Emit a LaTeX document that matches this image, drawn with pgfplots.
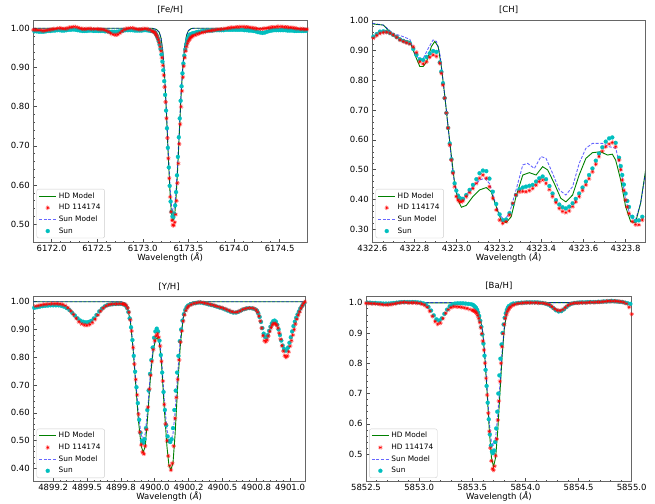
\documentclass[border=0pt]{standalone}
\usepackage{pgfplots}
\pgfplotsset{compat=1.18}
\usetikzlibrary{plotmarks}
\usepackage{fontspec}
\setmainfont{DejaVu Sans}
\definecolor{mplgreen}{rgb}{0,0.5,0}
\definecolor{mplred}{rgb}{1,0,0}
\definecolor{mplblue}{rgb}{0,0,1}
\definecolor{mplcyan}{rgb}{0,0.75,0.75}
\newcommand{\tf}{\fontsize{8.5}{10}\selectfont}
\newcommand{\lf}{\fontsize{7.4}{8.4}\selectfont}
\pgfplotsset{
  specax/.style={
    scale only axis, anchor=north west,
    axis line style={black!60, line width=0.6pt},
    tick align=inside, tick pos=left,
    major tick length=3.5pt, minor tick length=2pt,
    every tick/.style={black!70, line width=0.5pt},
    tick label style={font=\tf},
    xticklabel style={yshift=1pt, /pgf/number format/.cd, fixed, fixed zerofill, precision=1, 1000 sep={}, assume math mode=true},
    yticklabel style={/pgf/number format/.cd, fixed, fixed zerofill, precision=2, assume math mode=true},
    scaled ticks=false,
    label style={font=\tf},
    title style={font=\tf, yshift=-3pt},
    xlabel={Wavelength (\textit{Å})},
    xlabel style={yshift=5.5pt},
    legend style={at={(0.012,0.02)}, anchor=south west, draw=black!20, rounded corners=2pt,
      font=\lf, row sep=0.6pt, inner xsep=2pt, inner ysep=1.5pt, fill=white},
    legend cell align=left,
  },
  hdmod/.style={mplgreen, line width=0.9pt, no marks},
  hdobs/.style={only marks, mark=10-pointed star, mark size=2.3pt, mark options={fill=mplred, draw=mplred, line width=0.2pt}},
  sunmod/.style={mplblue, draw opacity=0.6, line width=0.9pt, dash pattern=on 3pt off 1.6pt, no marks},
  sunobs/.style={only marks, mark=*, mark size=2pt, mark options={fill=mplcyan, draw=mplcyan, line width=0.2pt}},
  fourleg/.code={%
  },
}
\newcommand{\legs}{%
  \addlegendimage{hdmod}\addlegendentry{HD Model}
  \addlegendimage{hdobs}\addlegendentry{HD 114174}
  \addlegendimage{sunmod}\addlegendentry{Sun Model}
  \addlegendimage{sunobs}\addlegendentry{Sun}}
\begin{document}
\begin{tikzpicture}
\useasboundingbox (0pt,-503pt) rectangle (655pt,0pt);
% ---------------- [Fe/H]
\begin{axis}[specax, at={(33.3pt,-20pt)}, width=273.7pt, height=222.7pt,
  title={[Fe/H]}, xmin=6171.8, xmax=6174.8, ymin=0.453, ymax=1.021,
  xtick={6172,6172.5,6173,6173.5,6174,6174.5}, ytick={0.5,0.6,0.7,0.8,0.9,1.0},
  minor x tick num=4, minor y tick num=4]
\legs
\addplot[hdmod, forget plot] coordinates {(6171.8,1.0) (6173.10,1.0) (6173.15,0.997) (6173.18,0.99) (6173.20,0.975) (6173.22,0.94) (6173.24,0.875) (6173.26,0.78) (6173.28,0.67) (6173.30,0.575) (6173.31,0.54) (6173.32,0.518) (6173.33,0.51) (6173.34,0.512) (6173.35,0.525) (6173.36,0.55) (6173.38,0.63) (6173.40,0.73) (6173.42,0.83) (6173.44,0.905) (6173.46,0.955) (6173.48,0.982) (6173.50,0.994) (6173.53,0.999) (6173.56,1.0) (6174.8,1.0)};
\addplot[sunmod, forget plot] coordinates {(6171.8,1.0) (6173.10,1.0) (6173.15,0.997) (6173.18,0.99) (6173.20,0.976) (6173.22,0.942) (6173.24,0.88) (6173.26,0.787) (6173.28,0.68) (6173.30,0.59) (6173.31,0.558) (6173.32,0.54) (6173.33,0.535) (6173.34,0.537) (6173.35,0.548) (6173.36,0.572) (6173.38,0.645) (6173.40,0.74) (6173.42,0.835) (6173.44,0.907) (6173.46,0.955) (6173.48,0.982) (6173.50,0.994) (6173.53,0.999) (6173.56,1.0) (6174.8,1.0)};
\addplot[sunobs, forget plot] coordinates {(6171.8125,0.992) (6171.8375,0.992) (6171.8625,0.991) (6171.8875,0.991) (6171.9125,0.991) (6171.9375,0.992) (6171.9625,0.993) (6171.9875,0.993) (6172.0125,0.994) (6172.0375,0.994) (6172.0625,0.995) (6172.0875,0.995) (6172.1125,0.994) (6172.1375,0.994) (6172.1625,0.995) (6172.1875,0.996) (6172.2125,0.996) (6172.2375,0.997) (6172.2625,0.996) (6172.2875,0.995) (6172.3125,0.994) (6172.3375,0.993) (6172.3625,0.993) (6172.3875,0.993) (6172.4125,0.994) (6172.4375,0.994) (6172.4625,0.993) (6172.4875,0.993) (6172.5125,0.993) (6172.5375,0.993) (6172.5625,0.993) (6172.5875,0.992) (6172.6125,0.992) (6172.6375,0.991) (6172.6625,0.991) (6172.6875,0.991) (6172.7125,0.991) (6172.7375,0.992) (6172.7625,0.993) (6172.7875,0.994) (6172.8125,0.995) (6172.8375,0.995) (6172.8625,0.995) (6172.8875,0.995) (6172.9125,0.994) (6172.9375,0.994) (6172.9625,0.994) (6172.9875,0.994) (6173.0125,0.995) (6173.0375,0.995) (6173.0625,0.994) (6173.0875,0.993) (6173.1125,0.992)
(6173.125,0.991) (6173.135,0.989) (6173.145,0.985) (6173.155,0.980) (6173.165,0.974) (6173.175,0.967) (6173.185,0.958) (6173.195,0.947) (6173.205,0.933) (6173.215,0.915) (6173.225,0.893) (6173.235,0.865) (6173.245,0.830) (6173.255,0.790) (6173.265,0.745) (6173.275,0.695) (6173.285,0.645) (6173.295,0.598) (6173.305,0.558) (6173.315,0.532) (6173.325,0.520) (6173.335,0.518) (6173.345,0.527) (6173.355,0.548) (6173.365,0.582) (6173.375,0.625) (6173.385,0.672) (6173.395,0.722) (6173.405,0.770) (6173.415,0.815) (6173.425,0.852) (6173.435,0.885) (6173.445,0.910) (6173.455,0.930) (6173.465,0.946) (6173.475,0.958) (6173.485,0.967) (6173.495,0.974) (6173.505,0.979) (6173.515,0.983) (6173.525,0.985) (6173.545,0.987)
(6173.5625,0.988) (6173.5875,0.990) (6173.6125,0.991) (6173.6375,0.992) (6173.6625,0.993) (6173.6875,0.993) (6173.7125,0.994) (6173.7375,0.994) (6173.7625,0.994) (6173.7875,0.995) (6173.8125,0.995) (6173.8375,0.995) (6173.8625,0.995) (6173.8875,0.995) (6173.9125,0.996) (6173.9375,0.996) (6173.9625,0.996) (6173.9875,0.996) (6174.0125,0.996) (6174.0375,0.996) (6174.0625,0.996) (6174.0875,0.996) (6174.1125,0.995) (6174.1375,0.995) (6174.1625,0.994) (6174.1875,0.994) (6174.2125,0.993) (6174.2375,0.992) (6174.2625,0.990) (6174.2875,0.989) (6174.3125,0.988) (6174.3375,0.989) (6174.3625,0.991) (6174.3875,0.993) (6174.4125,0.994) (6174.4375,0.995) (6174.4625,0.995) (6174.4875,0.995) (6174.5125,0.995) (6174.5375,0.995) (6174.5625,0.995) (6174.5875,0.994) (6174.6125,0.994) (6174.6375,0.994) (6174.6625,0.993) (6174.6875,0.993) (6174.7125,0.993) (6174.7375,0.993) (6174.7625,0.993) (6174.7875,0.993)};
\addplot[hdobs, forget plot] coordinates {(6171.800,0.996) (6171.825,0.996) (6171.850,0.995) (6171.875,0.995) (6171.900,0.994) (6171.925,0.994) (6171.950,0.995) (6171.975,0.996) (6172.000,0.997) (6172.025,0.998) (6172.050,0.999) (6172.075,1.000) (6172.100,1.000) (6172.125,0.999) (6172.150,0.999) (6172.175,1.000) (6172.200,1.002) (6172.225,1.003) (6172.250,1.004) (6172.275,1.003) (6172.300,1.001) (6172.325,0.999) (6172.350,0.998) (6172.375,0.998) (6172.400,0.999) (6172.425,0.999) (6172.450,0.998) (6172.475,0.998) (6172.500,0.998) (6172.525,0.997) (6172.550,0.997) (6172.575,0.996) (6172.600,0.994) (6172.625,0.991) (6172.650,0.987) (6172.675,0.984) (6172.700,0.983) (6172.725,0.984) (6172.750,0.988) (6172.775,0.993) (6172.800,0.997) (6172.825,0.999) (6172.850,1.000) (6172.875,1.001) (6172.900,1.000) (6172.925,0.998) (6172.950,0.997) (6172.975,0.997) (6173.000,0.998) (6173.025,0.999) (6173.050,0.998) (6173.075,0.996) (6173.100,0.993) (6173.115,0.991)
(6173.13,0.990) (6173.14,0.986) (6173.15,0.982) (6173.16,0.977) (6173.17,0.971) (6173.18,0.963) (6173.19,0.953) (6173.20,0.942) (6173.21,0.925) (6173.22,0.905) (6173.23,0.880) (6173.24,0.850) (6173.25,0.812) (6173.26,0.770) (6173.27,0.720) (6173.28,0.668) (6173.29,0.617) (6173.30,0.570) (6173.31,0.532) (6173.32,0.510) (6173.33,0.498) (6173.34,0.497) (6173.35,0.505) (6173.36,0.525) (6173.37,0.560) (6173.38,0.605) (6173.39,0.655) (6173.40,0.705) (6173.41,0.755) (6173.42,0.800) (6173.43,0.840) (6173.44,0.875) (6173.45,0.903) (6173.46,0.925) (6173.47,0.942) (6173.48,0.953) (6173.49,0.961) (6173.50,0.967) (6173.51,0.971) (6173.52,0.975) (6173.53,0.977) (6173.54,0.979) (6173.55,0.981)
(6173.575,0.983) (6173.600,0.985) (6173.625,0.987) (6173.650,0.989) (6173.675,0.990) (6173.700,0.992) (6173.725,0.993) (6173.750,0.994) (6173.775,0.995) (6173.800,0.996) (6173.825,0.997) (6173.850,0.997) (6173.875,0.998) (6173.900,0.999) (6173.925,1.000) (6173.950,1.001) (6173.975,1.002) (6174.000,1.002) (6174.025,1.003) (6174.050,1.003) (6174.075,1.004) (6174.100,1.004) (6174.125,1.003) (6174.150,1.003) (6174.175,1.002) (6174.200,1.001) (6174.225,1.000) (6174.250,0.999) (6174.275,0.998) (6174.300,0.998) (6174.325,0.999) (6174.350,1.000) (6174.375,1.001) (6174.400,1.002) (6174.425,1.003) (6174.450,1.003) (6174.475,1.004) (6174.500,1.004) (6174.525,1.004) (6174.550,1.003) (6174.575,1.003) (6174.600,1.002) (6174.625,1.002) (6174.650,1.001) (6174.675,1.000) (6174.700,0.999) (6174.725,0.998) (6174.750,0.998) (6174.775,0.997) (6174.800,0.997)};
\end{axis}
% ---------------- [CH]
\begin{axis}[specax, at={(372.3pt,-20pt)}, width=272.7pt, height=222.7pt,
  title={[CH]}, xmin=4322.6, xmax=4323.892, ymin=0.255, ymax=1.002,
  xtick={4322.6,4322.8,4323.0,4323.2,4323.4,4323.6,4323.8}, ytick={0.3,0.4,0.5,0.6,0.7,0.8,0.9,1.0},
  minor x tick num=3, minor y tick num=4]
\legs
\addplot[hdmod, forget plot] coordinates {(4322.600,0.989) (4322.652,0.985) (4322.699,0.952) (4322.747,0.935) (4322.778,0.930) (4322.802,0.885) (4322.825,0.846) (4322.841,0.846) (4322.857,0.862) (4322.880,0.913) (4322.896,0.930) (4322.912,0.913) (4322.927,0.846) (4322.943,0.750) (4322.959,0.644) (4322.975,0.544) (4322.990,0.454) (4323.006,0.398) (4323.022,0.374) (4323.045,0.380) (4323.077,0.410) (4323.108,0.432) (4323.140,0.440) (4323.163,0.426) (4323.187,0.376) (4323.210,0.331) (4323.234,0.322) (4323.258,0.342) (4323.281,0.410) (4323.313,0.482) (4323.344,0.490) (4323.376,0.482) (4323.407,0.510) (4323.431,0.499) (4323.462,0.454) (4323.493,0.404) (4323.517,0.392) (4323.549,0.415) (4323.580,0.482) (4323.612,0.538) (4323.643,0.557) (4323.682,0.560) (4323.714,0.549) (4323.737,0.552) (4323.753,0.532) (4323.777,0.465) (4323.800,0.376) (4323.824,0.326) (4323.847,0.322) (4323.871,0.387) (4323.895,0.499)};
\addplot[sunmod, forget plot] coordinates {(4322.600,0.991) (4322.652,0.985) (4322.699,0.957) (4322.747,0.946) (4322.778,0.937) (4322.802,0.890) (4322.825,0.868) (4322.841,0.873) (4322.865,0.907) (4322.888,0.935) (4322.904,0.930) (4322.920,0.890) (4322.935,0.800) (4322.951,0.700) (4322.967,0.588) (4322.982,0.488) (4322.998,0.426) (4323.014,0.404) (4323.038,0.410) (4323.077,0.443) (4323.108,0.465) (4323.132,0.471) (4323.155,0.454) (4323.179,0.398) (4323.203,0.348) (4323.226,0.331) (4323.250,0.354) (4323.281,0.432) (4323.313,0.516) (4323.336,0.521) (4323.368,0.504) (4323.399,0.544) (4323.423,0.538) (4323.454,0.488) (4323.486,0.432) (4323.517,0.415) (4323.549,0.443) (4323.580,0.521) (4323.612,0.572) (4323.643,0.588) (4323.690,0.588) (4323.722,0.577) (4323.753,0.572) (4323.777,0.504) (4323.800,0.398) (4323.824,0.342) (4323.847,0.331) (4323.871,0.387) (4323.897,0.499)};
\addplot[sunobs, forget plot] coordinates {(4322.605,0.946) (4322.621,0.955) (4322.636,0.963) (4322.652,0.964) (4322.668,0.963) (4322.684,0.958) (4322.699,0.952) (4322.715,0.945) (4322.731,0.937) (4322.747,0.932) (4322.762,0.928) (4322.778,0.924) (4322.794,0.905) (4322.809,0.885) (4322.825,0.870) (4322.841,0.868) (4322.857,0.878) (4322.872,0.890) (4322.888,0.898) (4322.904,0.895) (4322.920,0.860) (4322.927,0.829) (4322.935,0.790) (4322.943,0.740) (4322.951,0.690) (4322.959,0.640) (4322.967,0.588) (4322.975,0.535) (4322.982,0.492) (4322.990,0.454) (4322.998,0.430) (4323.006,0.413) (4323.014,0.405) (4323.022,0.401) (4323.030,0.402) (4323.045,0.415) (4323.061,0.432) (4323.077,0.449) (4323.093,0.468) (4323.108,0.488) (4323.124,0.497) (4323.140,0.495) (4323.155,0.470) (4323.171,0.426) (4323.187,0.385) (4323.203,0.350) (4323.218,0.331) (4323.234,0.333) (4323.250,0.354) (4323.266,0.385) (4323.281,0.415) (4323.297,0.434) (4323.313,0.440) (4323.328,0.443) (4323.344,0.446) (4323.360,0.449) (4323.376,0.460) (4323.391,0.471) (4323.407,0.477) (4323.423,0.468) (4323.439,0.445) (4323.454,0.420) (4323.470,0.398) (4323.486,0.383) (4323.501,0.374) (4323.517,0.370) (4323.533,0.376) (4323.549,0.387) (4323.564,0.402) (4323.580,0.420) (4323.596,0.440) (4323.612,0.460) (4323.627,0.482) (4323.643,0.504) (4323.659,0.530) (4323.674,0.554) (4323.690,0.575) (4323.706,0.594) (4323.722,0.605) (4323.737,0.608) (4323.753,0.590) (4323.769,0.540) (4323.777,0.512) (4323.784,0.482) (4323.792,0.450) (4323.800,0.420) (4323.808,0.395) (4323.816,0.375) (4323.832,0.342) (4323.847,0.328) (4323.863,0.330) (4323.879,0.342) (4323.895,0.365)};
\addplot[hdobs, forget plot] coordinates {(4322.605,0.941) (4322.621,0.950) (4322.636,0.957) (4322.652,0.960) (4322.668,0.961) (4322.684,0.958) (4322.699,0.952) (4322.715,0.944) (4322.731,0.935) (4322.747,0.930) (4322.762,0.926) (4322.778,0.922) (4322.794,0.912) (4322.809,0.893) (4322.825,0.862) (4322.841,0.855) (4322.857,0.862) (4322.872,0.877) (4322.888,0.885) (4322.904,0.880) (4322.920,0.857) (4322.927,0.823) (4322.935,0.784) (4322.943,0.740) (4322.951,0.690) (4322.959,0.640) (4322.967,0.583) (4322.975,0.532) (4322.982,0.488) (4322.990,0.443) (4322.998,0.410) (4323.006,0.398) (4323.014,0.393) (4323.022,0.392) (4323.030,0.396) (4323.045,0.410) (4323.061,0.423) (4323.077,0.437) (4323.093,0.454) (4323.108,0.471) (4323.124,0.482) (4323.140,0.471) (4323.155,0.443) (4323.171,0.404) (4323.187,0.365) (4323.203,0.331) (4323.218,0.320) (4323.234,0.326) (4323.250,0.348) (4323.266,0.387) (4323.281,0.415) (4323.297,0.426) (4323.313,0.427) (4323.328,0.426) (4323.344,0.430) (4323.360,0.437) (4323.376,0.448) (4323.391,0.460) (4323.407,0.465) (4323.423,0.454) (4323.439,0.433) (4323.454,0.410) (4323.470,0.390) (4323.486,0.370) (4323.501,0.360) (4323.517,0.356) (4323.533,0.362) (4323.549,0.376) (4323.564,0.392) (4323.580,0.410) (4323.596,0.430) (4323.612,0.449) (4323.627,0.470) (4323.643,0.493) (4323.659,0.518) (4323.674,0.544) (4323.690,0.562) (4323.706,0.577) (4323.722,0.586) (4323.737,0.591) (4323.753,0.577) (4323.769,0.532) (4323.777,0.500) (4323.784,0.465) (4323.792,0.430) (4323.800,0.398) (4323.808,0.375) (4323.816,0.353) (4323.832,0.326) (4323.847,0.316) (4323.863,0.315) (4323.879,0.331) (4323.895,0.348)};
\end{axis}
% ---------------- [Y/H]
\begin{axis}[specax, at={(33.3pt,-296.7pt)}, width=271.7pt, height=185pt,
  title={[Y/H]}, xmin=4899.103, xmax=4901.11, ymin=0.352, ymax=1.018,
  xtick={4899.25,4899.5,4899.75,4900,4900.25,4900.5,4900.75,4901},
  xticklabels={4899.2,4899.5,4899.8,4900.0,4900.2,4900.5,4900.8,4901.0},
  ytick={0.4,0.5,0.6,0.7,0.8,0.9,1.0},
  minor x tick num=4, minor y tick num=4]
\legs
\addplot[hdmod, forget plot] coordinates {(4899.10,1.0) (4899.75,1.0) (4899.78,0.995) (4899.80,0.975) (4899.82,0.93) (4899.84,0.83) (4899.86,0.70) (4899.88,0.57) (4899.90,0.48) (4899.915,0.458) (4899.93,0.48) (4899.95,0.60) (4899.97,0.74) (4899.99,0.83) (4900.01,0.868) (4900.02,0.87) (4900.035,0.85) (4900.05,0.78) (4900.07,0.62) (4900.09,0.48) (4900.105,0.41) (4900.12,0.395) (4900.135,0.42) (4900.15,0.52) (4900.17,0.70) (4900.19,0.85) (4900.21,0.94) (4900.23,0.98) (4900.26,0.996) (4900.30,1.0) (4901.11,1.0)};
\addplot[sunmod, forget plot] coordinates {(4899.10,1.0) (4899.75,1.0) (4899.78,0.995) (4899.80,0.976) (4899.82,0.932) (4899.84,0.84) (4899.86,0.715) (4899.88,0.595) (4899.90,0.52) (4899.915,0.505) (4899.93,0.525) (4899.95,0.625) (4899.97,0.755) (4899.99,0.84) (4900.01,0.878) (4900.02,0.88) (4900.035,0.86) (4900.05,0.795) (4900.07,0.65) (4900.09,0.54) (4900.105,0.505) (4900.12,0.50) (4900.135,0.525) (4900.15,0.60) (4900.17,0.745) (4900.19,0.87) (4900.21,0.945) (4900.23,0.982) (4900.26,0.996) (4900.30,1.0) (4901.11,1.0)};
\addplot[sunobs, forget plot] coordinates {(4899.11,0.978) (4899.13,0.980) (4899.15,0.982) (4899.17,0.984) (4899.19,0.985) (4899.21,0.986) (4899.23,0.987) (4899.25,0.987) (4899.27,0.987) (4899.29,0.987) (4899.31,0.985) (4899.33,0.982) (4899.35,0.977) (4899.37,0.970) (4899.39,0.960) (4899.41,0.950) (4899.43,0.940) (4899.45,0.932) (4899.47,0.928) (4899.49,0.926) (4899.51,0.927) (4899.53,0.931) (4899.55,0.940) (4899.57,0.952) (4899.59,0.965) (4899.61,0.975) (4899.63,0.983) (4899.65,0.988) (4899.67,0.990) (4899.69,0.991) (4899.71,0.992) (4899.73,0.992) (4899.75,0.992) (4899.765,0.991)
(4899.775,0.990) (4899.785,0.986) (4899.795,0.978) (4899.805,0.963) (4899.815,0.940) (4899.825,0.908) (4899.835,0.862) (4899.845,0.805) (4899.855,0.748) (4899.865,0.692) (4899.875,0.635) (4899.885,0.575) (4899.895,0.528) (4899.905,0.500) (4899.915,0.492) (4899.925,0.505) (4899.935,0.545) (4899.945,0.610) (4899.955,0.680) (4899.965,0.740) (4899.975,0.790) (4899.985,0.835) (4899.995,0.870) (4900.005,0.893) (4900.015,0.903) (4900.025,0.893) (4900.035,0.860) (4900.045,0.808) (4900.055,0.745) (4900.065,0.675) (4900.075,0.610) (4900.085,0.555) (4900.095,0.515) (4900.105,0.498) (4900.115,0.495) (4900.125,0.505) (4900.135,0.545) (4900.145,0.610) (4900.155,0.680) (4900.165,0.745) (4900.175,0.805) (4900.185,0.858) (4900.195,0.900) (4900.205,0.932) (4900.215,0.955) (4900.225,0.970) (4900.235,0.980) (4900.245,0.986) (4900.265,0.991) (4900.285,0.994)
(4900.30,0.995) (4900.32,0.997) (4900.34,0.997) (4900.36,0.995) (4900.38,0.993) (4900.40,0.990) (4900.42,0.988) (4900.44,0.985) (4900.46,0.982) (4900.48,0.979) (4900.50,0.976) (4900.52,0.972) (4900.54,0.968) (4900.56,0.964) (4900.58,0.961) (4900.60,0.961) (4900.62,0.964) (4900.64,0.969) (4900.66,0.973) (4900.68,0.976) (4900.70,0.977) (4900.72,0.976) (4900.74,0.973) (4900.755,0.968) (4900.765,0.958) (4900.775,0.945) (4900.785,0.927) (4900.795,0.905) (4900.805,0.885) (4900.815,0.873) (4900.825,0.872) (4900.835,0.880) (4900.845,0.895) (4900.855,0.910) (4900.865,0.922) (4900.875,0.930) (4900.885,0.932) (4900.895,0.928) (4900.905,0.917) (4900.915,0.900) (4900.925,0.880) (4900.935,0.860) (4900.945,0.842) (4900.955,0.830) (4900.965,0.824) (4900.975,0.825) (4900.985,0.835) (4900.995,0.852) (4901.005,0.872) (4901.015,0.893) (4901.025,0.912) (4901.035,0.928) (4901.045,0.942) (4901.055,0.954) (4901.065,0.965) (4901.075,0.975) (4901.085,0.983) (4901.095,0.990) (4901.105,0.996)};
\addplot[hdobs, forget plot] coordinates {(4899.10,0.982) (4899.12,0.984) (4899.14,0.986) (4899.16,0.988) (4899.18,0.990) (4899.20,0.991) (4899.22,0.992) (4899.24,0.993) (4899.26,0.993) (4899.28,0.993) (4899.30,0.992) (4899.32,0.990) (4899.34,0.986) (4899.36,0.978) (4899.38,0.967) (4899.40,0.954) (4899.42,0.940) (4899.44,0.928) (4899.46,0.920) (4899.48,0.916) (4899.50,0.915) (4899.52,0.918) (4899.54,0.925) (4899.56,0.937) (4899.58,0.952) (4899.60,0.966) (4899.62,0.977) (4899.64,0.985) (4899.66,0.989) (4899.68,0.991) (4899.70,0.992) (4899.72,0.992) (4899.74,0.993) (4899.76,0.992)
(4899.77,0.992) (4899.78,0.990) (4899.79,0.986) (4899.80,0.977) (4899.81,0.962) (4899.82,0.935) (4899.83,0.895) (4899.84,0.835) (4899.85,0.775) (4899.86,0.720) (4899.87,0.665) (4899.88,0.595) (4899.89,0.530) (4899.90,0.485) (4899.91,0.458) (4899.92,0.452) (4899.93,0.480) (4899.94,0.540) (4899.95,0.620) (4899.96,0.685) (4899.97,0.735) (4899.98,0.785) (4899.99,0.828) (4900.00,0.860) (4900.01,0.877) (4900.02,0.884) (4900.03,0.872) (4900.04,0.840) (4900.05,0.785) (4900.06,0.715) (4900.07,0.630) (4900.08,0.560) (4900.09,0.500) (4900.10,0.445) (4900.11,0.410) (4900.12,0.394) (4900.13,0.418) (4900.14,0.480) (4900.15,0.580) (4900.16,0.655) (4900.17,0.720) (4900.18,0.790) (4900.19,0.855) (4900.20,0.895) (4900.21,0.930) (4900.22,0.953) (4900.23,0.968) (4900.24,0.978) (4900.25,0.984) (4900.27,0.990) (4900.29,0.994)
(4900.31,0.996) (4900.33,0.998) (4900.35,0.997) (4900.37,0.995) (4900.39,0.993) (4900.41,0.990) (4900.43,0.988) (4900.45,0.985) (4900.47,0.982) (4900.49,0.979) (4900.51,0.976) (4900.53,0.972) (4900.55,0.968) (4900.57,0.964) (4900.59,0.962) (4900.61,0.963) (4900.63,0.967) (4900.65,0.972) (4900.67,0.975) (4900.69,0.977) (4900.71,0.977) (4900.73,0.976) (4900.75,0.970) (4900.76,0.962) (4900.77,0.948) (4900.78,0.930) (4900.79,0.905) (4900.80,0.878) (4900.81,0.860) (4900.82,0.856) (4900.83,0.862) (4900.84,0.877) (4900.85,0.893) (4900.86,0.907) (4900.87,0.917) (4900.88,0.922) (4900.89,0.921) (4900.90,0.916) (4900.91,0.905) (4900.92,0.887) (4900.93,0.865) (4900.94,0.842) (4900.95,0.822) (4900.96,0.806) (4900.97,0.800) (4900.98,0.805) (4900.99,0.820) (4901.00,0.840) (4901.01,0.860) (4901.02,0.880) (4901.03,0.900) (4901.04,0.920) (4901.05,0.937) (4901.06,0.952) (4901.07,0.964) (4901.08,0.976) (4901.09,0.986) (4901.10,0.994) (4901.11,1.000)};
\end{axis}
% ---------------- [Ba/H]
\begin{axis}[specax, at={(366pt,-296pt)}, width=265.7pt, height=185.7pt,
  title={[Ba/H]}, xmin=5852.5, xmax=5855.0, ymin=0.409, ymax=1.022,
  xtick={5852.5,5853,5853.5,5854,5854.5,5855}, ytick={0.5,0.6,0.7,0.8,0.9,1.0},
  yticklabel style={/pgf/number format/.cd, fixed, fixed zerofill, precision=1, assume math mode=true},
  minor x tick num=4, minor y tick num=4]
\legs
\addplot[hdmod, forget plot] coordinates {(5852.5,1.0) (5853.45,0.999) (5853.50,0.996) (5853.55,0.975) (5853.58,0.94) (5853.60,0.895) (5853.62,0.81) (5853.64,0.70) (5853.66,0.58) (5853.68,0.49) (5853.70,0.458) (5853.72,0.49) (5853.74,0.58) (5853.76,0.70) (5853.78,0.82) (5853.80,0.91) (5853.82,0.96) (5853.85,0.99) (5853.90,0.998) (5853.95,1.0) (5855.0,1.0)};
\addplot[sunmod, forget plot] coordinates {(5852.5,1.0) (5853.30,1.0) (5853.45,0.998) (5853.50,0.995) (5853.55,0.975) (5853.58,0.942) (5853.60,0.9) (5853.62,0.82) (5853.64,0.715) (5853.66,0.605) (5853.68,0.54) (5853.70,0.528) (5853.72,0.555) (5853.74,0.63) (5853.76,0.73) (5853.78,0.835) (5853.80,0.915) (5853.82,0.962) (5853.85,0.99) (5853.90,0.998) (5853.95,1.0) (5855.0,1.0)};
\addplot[sunobs, forget plot] coordinates {(5852.5125,1.000) (5852.5375,1.000) (5852.5625,0.999) (5852.5875,0.999) (5852.6125,0.998) (5852.6375,0.998) (5852.6625,0.997) (5852.6875,0.997) (5852.7125,0.997) (5852.7375,0.998) (5852.7625,0.999) (5852.7875,1.000) (5852.8125,1.001) (5852.8375,1.002) (5852.8625,1.002) (5852.8875,1.002) (5852.9125,1.002) (5852.9375,1.002) (5852.9625,1.002) (5852.9875,1.001) (5853.0125,1.000) (5853.0375,0.998) (5853.0625,0.994) (5853.0875,0.986) (5853.1125,0.974) (5853.1375,0.958) (5853.1625,0.945) (5853.1875,0.941) (5853.2125,0.948) (5853.2375,0.963) (5853.2625,0.977) (5853.2875,0.988) (5853.3125,0.994) (5853.3375,0.997) (5853.3625,0.998) (5853.3875,0.998) (5853.4125,0.998) (5853.4375,0.997) (5853.4625,0.996) (5853.4875,0.995)
(5853.505,0.993) (5853.515,0.990) (5853.525,0.987) (5853.535,0.983) (5853.545,0.977) (5853.555,0.968) (5853.565,0.956) (5853.575,0.940) (5853.585,0.920) (5853.595,0.895) (5853.605,0.865) (5853.615,0.825) (5853.625,0.778) (5853.635,0.725) (5853.645,0.670) (5853.655,0.615) (5853.665,0.565) (5853.675,0.528) (5853.685,0.508) (5853.695,0.503) (5853.705,0.512) (5853.715,0.540) (5853.725,0.585) (5853.735,0.640) (5853.745,0.700) (5853.755,0.760) (5853.765,0.815) (5853.775,0.862) (5853.785,0.900) (5853.795,0.928) (5853.805,0.950) (5853.815,0.965) (5853.825,0.976) (5853.835,0.984) (5853.845,0.989) (5853.865,0.994) (5853.885,0.997)
(5853.9125,0.998) (5853.9375,0.999) (5853.9625,1.000) (5853.9875,1.000) (5854.0125,1.001) (5854.0375,1.001) (5854.0625,1.001) (5854.0875,1.001) (5854.1125,1.001) (5854.1375,1.000) (5854.1625,0.999) (5854.1875,0.997) (5854.2125,0.994) (5854.2375,0.989) (5854.2625,0.982) (5854.2875,0.975) (5854.3125,0.971) (5854.3375,0.972) (5854.3625,0.978) (5854.3875,0.986) (5854.4125,0.993) (5854.4375,0.997) (5854.4625,0.999) (5854.4875,1.000) (5854.5125,1.001) (5854.5375,1.001) (5854.5625,1.001) (5854.5875,1.002) (5854.6125,1.002) (5854.6375,1.002) (5854.6625,1.002) (5854.6875,1.003) (5854.7125,1.003) (5854.7375,1.004) (5854.7625,1.004) (5854.7875,1.005) (5854.8125,1.006) (5854.8375,1.005) (5854.8625,1.004) (5854.8875,1.003) (5854.9125,1.002) (5854.9375,1.000) (5854.9625,0.998) (5854.9875,0.996)};
\addplot[hdobs, forget plot] coordinates {(5852.500,0.998) (5852.525,0.998) (5852.550,0.997) (5852.575,0.997) (5852.600,0.996) (5852.625,0.995) (5852.650,0.994) (5852.675,0.993) (5852.700,0.993) (5852.725,0.994) (5852.750,0.995) (5852.775,0.997) (5852.800,0.999) (5852.825,1.000) (5852.850,1.001) (5852.875,1.001) (5852.900,1.000) (5852.925,1.000) (5852.950,1.000) (5852.975,0.999) (5853.000,0.998) (5853.025,0.996) (5853.050,0.992) (5853.075,0.985) (5853.100,0.972) (5853.125,0.955) (5853.150,0.938) (5853.175,0.929) (5853.200,0.933) (5853.225,0.948) (5853.250,0.965) (5853.275,0.977) (5853.300,0.984) (5853.325,0.987) (5853.350,0.987) (5853.375,0.986) (5853.400,0.985) (5853.425,0.983) (5853.450,0.981) (5853.475,0.978)
(5853.50,0.975) (5853.51,0.974) (5853.52,0.972) (5853.53,0.969) (5853.54,0.965) (5853.55,0.958) (5853.56,0.948) (5853.57,0.935) (5853.58,0.918) (5853.59,0.898) (5853.60,0.873) (5853.61,0.843) (5853.62,0.800) (5853.63,0.750) (5853.64,0.695) (5853.65,0.635) (5853.66,0.575) (5853.67,0.520) (5853.68,0.478) (5853.69,0.452) (5853.70,0.447) (5853.71,0.460) (5853.72,0.495) (5853.73,0.550) (5853.74,0.612) (5853.75,0.675) (5853.76,0.740) (5853.77,0.800) (5853.78,0.855) (5853.79,0.898) (5853.80,0.928) (5853.81,0.948) (5853.82,0.960) (5853.83,0.970) (5853.84,0.977) (5853.85,0.982) (5853.86,0.986) (5853.88,0.991) (5853.90,0.994)
(5853.925,0.997) (5853.950,0.998) (5853.975,0.999) (5854.000,1.000) (5854.025,1.000) (5854.050,1.000) (5854.075,1.000) (5854.100,1.000) (5854.125,0.999) (5854.150,0.999) (5854.175,0.998) (5854.200,0.996) (5854.225,0.993) (5854.250,0.987) (5854.275,0.980) (5854.300,0.975) (5854.325,0.974) (5854.350,0.977) (5854.375,0.984) (5854.400,0.991) (5854.425,0.996) (5854.450,0.998) (5854.475,0.999) (5854.500,0.999) (5854.525,1.000) (5854.550,1.000) (5854.575,1.000) (5854.600,1.001) (5854.625,1.001) (5854.650,1.001) (5854.675,1.002) (5854.700,1.002) (5854.725,1.003) (5854.750,1.004) (5854.775,1.005) (5854.800,1.005) (5854.825,1.005) (5854.850,1.005) (5854.875,1.004) (5854.900,1.003) (5854.925,1.001) (5854.950,0.997) (5854.975,0.985) (5855.000,0.962)};
\end{axis}
\end{tikzpicture}
\end{document}
